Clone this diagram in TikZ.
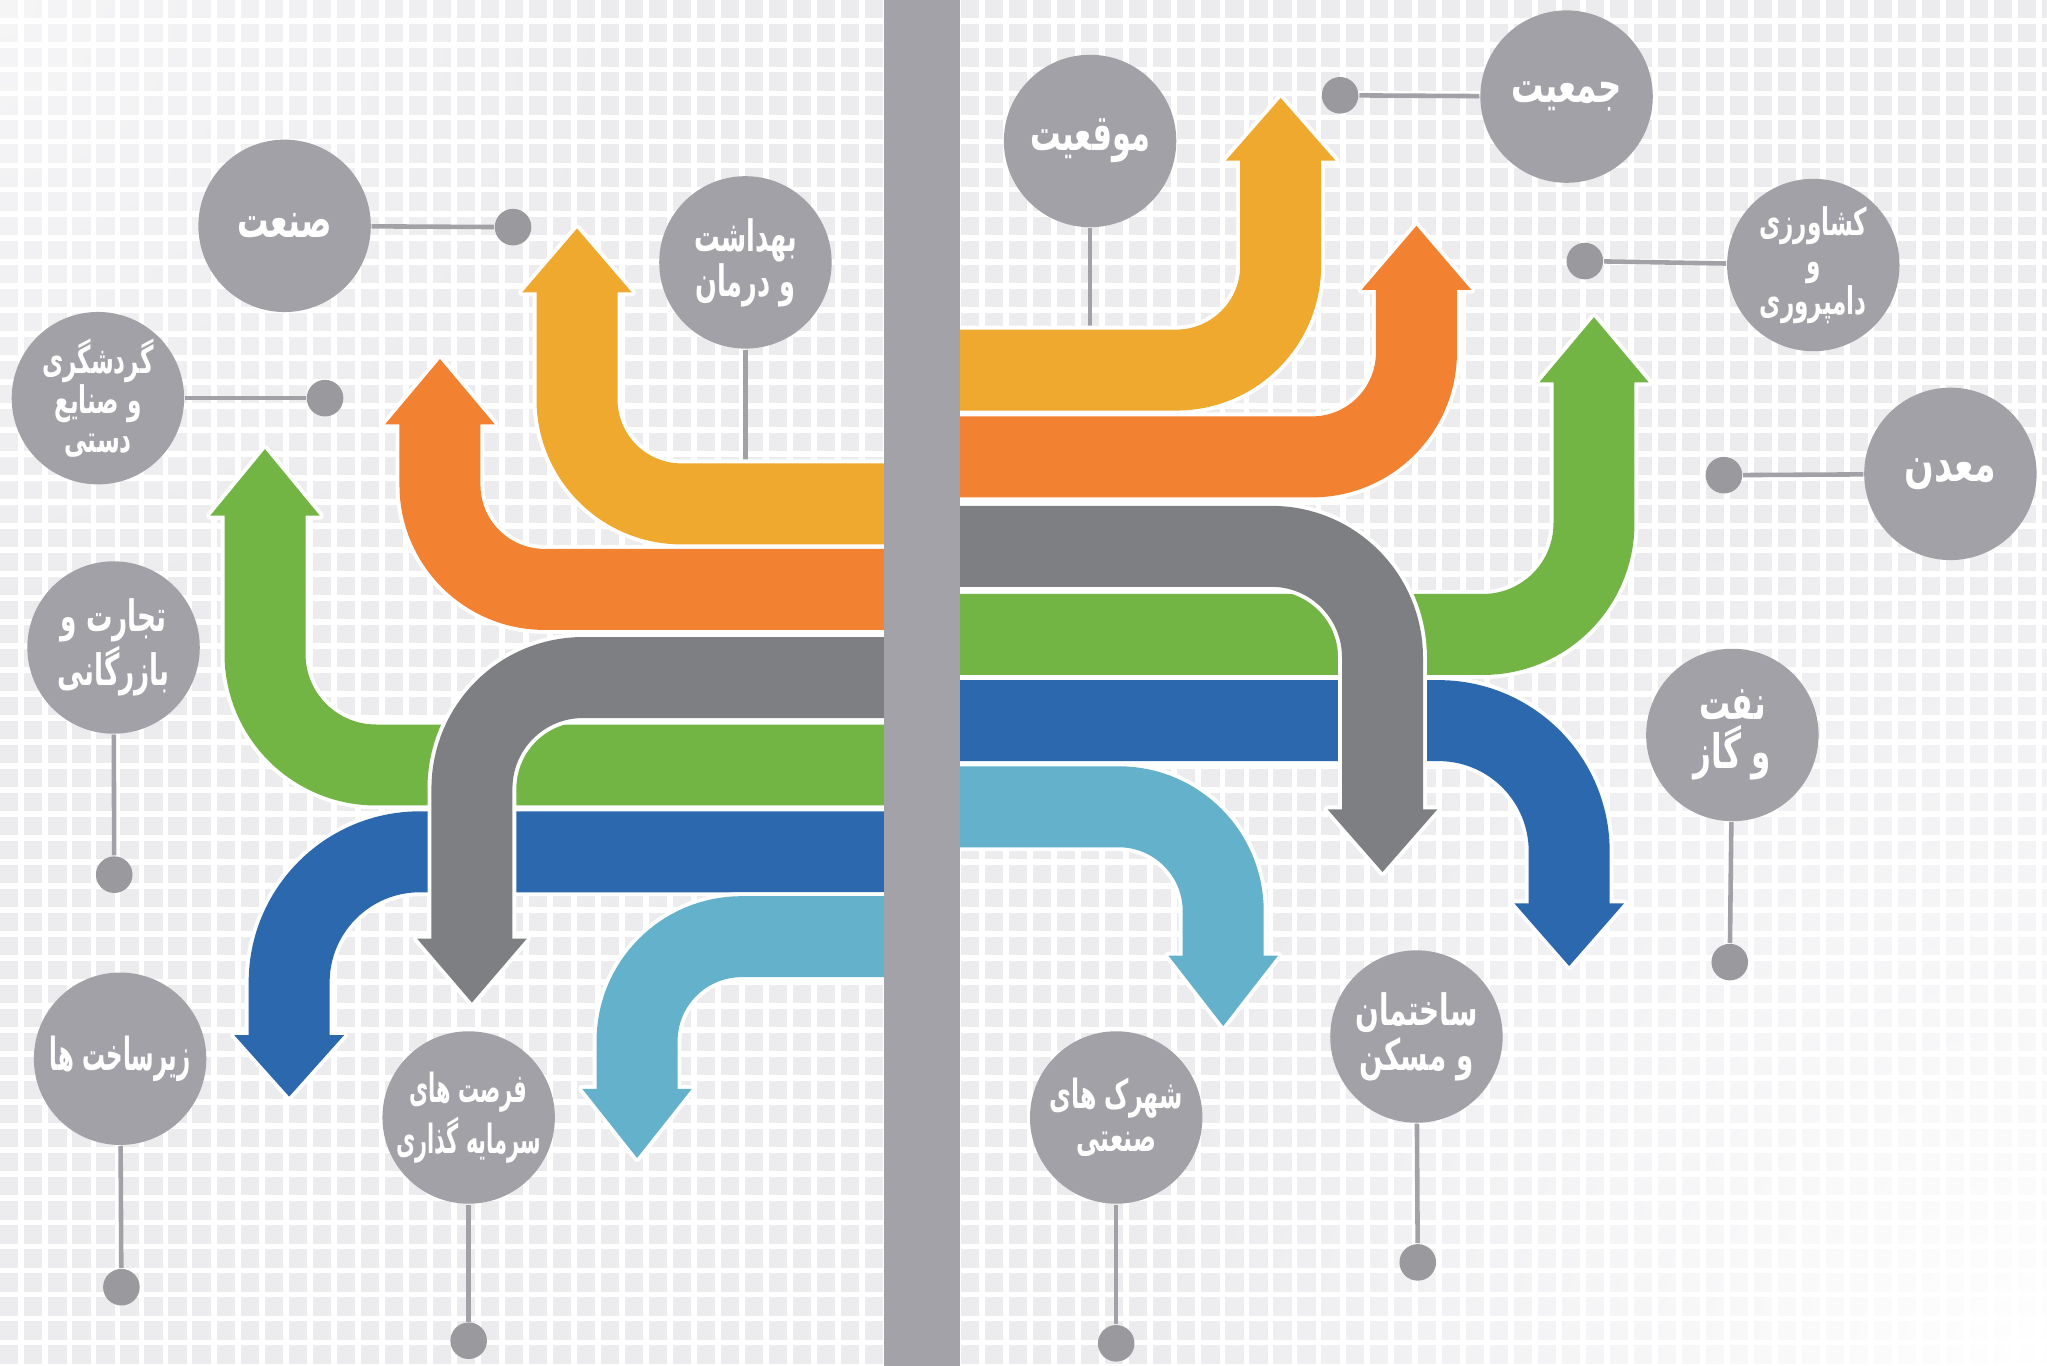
\documentclass[tikz,border=0pt]{standalone}
\usepackage{graphicx}
\usepackage{fontspec}
\newfontfamily\fa[Script=Arabic]{DejaVu Sans}
\TeXXeTstate=1
\usetikzlibrary{fadings}
\definecolor{cY}{HTML}{EFA92F}
\definecolor{cO}{HTML}{F28131}
\definecolor{cG}{HTML}{72B544}
\definecolor{cB}{HTML}{2C68AE}
\definecolor{cL}{HTML}{63B1CA}
\definecolor{cK}{HTML}{7E7F83}
\definecolor{barg}{HTML}{A3A2A9}
\definecolor{bub}{HTML}{A2A1A7}
\definecolor{dotg}{HTML}{9A999E}
\definecolor{gridg}{HTML}{ECECEF}
\tikzfading[name=radfade, inner color=transparent!0, outer color=transparent!100]
\newcommand\rl[2][0.7]{\scalebox{#1}[1.15]{\beginR #2\endR}}
% #1 colour, #2 band y, #3 shaft x, #4 head base y, #5 tip y, #6 corner radius
\newcommand\flow[6]{%
 \draw[white, line width=0.68cm, rounded corners=#6] (706,#2) -- (#3,#2) -- (#3,{#4+0.1*(#5-#4)});
 \filldraw[white, line width=0.06cm, line join=round] ({#3-42},#4) -- ({#3+42},#4) -- (#3,#5) -- cycle;
 \draw[#1, line width=0.62cm, rounded corners=#6] (706,#2) -- (#3,#2) -- (#3,{#4+0.1*(#5-#4)});
 \fill[#1] ({#3-42},#4) -- ({#3+42},#4) -- (#3,#5) -- cycle;
}
\begin{document}
\begin{tikzpicture}[x=0.01cm, y=-0.01cm,
  bubble/.style={circle, fill=bub, minimum size=1.32cm, inner sep=0pt, text=white, align=center},
  one/.style={font=\fa\bfseries\fontsize{9.5}{11}\selectfont},
  two/.style={font=\fa\bfseries\fontsize{8.2}{9.8}\selectfont},
  three/.style={font=\fa\bfseries\fontsize{7.2}{8.6}\selectfont},
  dotn/.style={circle, fill=dotg, minimum size=0.28cm, inner sep=0pt},
  conn/.style={draw=bub, line width=0.035cm}]
\useasboundingbox (0,0) rectangle (1568,1046);
% background grid
\fill[gridg] (0,0) rectangle (1568,1046);
\foreach \i in {0,...,86} \draw[white, line width=0.045cm] ({\i*18.4-2},0) -- ({\i*18.4-2},1046);
\foreach \j in {0,...,57} \draw[white, line width=0.045cm] (0,{\j*18.4-2}) -- (1568,{\j*18.4-2});
\fill[white, path fading=radfade] (1568,1046) circle[radius=7cm];
\fill[white, path fading=radfade, opacity=0.5] (0,0) circle[radius=5cm];

% bubbles (nodes) and dots
\node[bubble, one] (sanat) at (218,173) {\rl[0.72]{صنعت}};
\node[bubble, two] (behdasht) at (571,201) {\rl[0.68]{بهداشت}\\\rl[0.68]{و درمان}};
\node[bubble, three] (gardesh) at (75,305) {\rl{گردشگری}\\\rl{و صنایع}\\\rl{دستی}};
\node[bubble, two] (tejarat) at (87,496) {\rl[0.7]{تجارت و}\\\rl[0.7]{بازرگانی}};
\node[bubble, one, font=\fa\bfseries\fontsize{8.6}{10}\selectfont] (zir) at (92,811) {\rl[0.58]{زیرساخت ها}};
\node[bubble, two, font=\fa\bfseries\fontsize{7.6}{9.4}\selectfont] (forsat) at (359,856) {\rl[0.6]{فرصت های}\\\rl[0.6]{سرمایه گذاری}};
\node[bubble, two, font=\fa\bfseries\fontsize{7.6}{9.4}\selectfont] (shahrak) at (855,856) {\rl[0.68]{شهرک های}\\\rl[0.68]{صنعتی}};
\node[bubble, two] (sakhteman) at (1085,794) {\rl[0.74]{ساختمان}\\\rl[0.74]{و مسکن}};
\node[bubble, two, font=\fa\bfseries\fontsize{9}{10.8}\selectfont] (naft) at (1327,563) {\rl[0.75]{نفت}\\\rl[0.75]{و گاز}};
\node[bubble, one] (madan) at (1494,363) {\rl[0.8]{معدن}};
\node[bubble, three] (keshavarzi) at (1389,203) {\rl{کشاورزی}\\\rl{و}\\\rl{دامپروری}};
\node[bubble, one] (jamiat) at (1200,74) {\rl[0.74]{جمعیت}};
\node[bubble, one] (mogheiat) at (835,108) {\rl[0.7]{موقعیت}};

\node[dotn] (d1) at (393,174) {};
\node[dotn] (d3) at (249,305) {};
\node[dotn] (d4) at (87.5,670) {};
\node[dotn] (d5) at (93,986) {};
\node[dotn] (d6) at (359,1027) {};
\node[dotn] (d7) at (855,1029) {};
\node[dotn] (d8) at (1086,967) {};
\node[dotn] (d9) at (1325,737) {};
\node[dotn] (d10) at (1320.5,364) {};
\node[dotn] (d11) at (1214,200) {};
\node[dotn] (d12) at (1026.5,73) {};
\coordinate (e2) at (571,356);
\coordinate (e13) at (835,256);

\draw[conn] (sanat) -- (d1);
\draw[conn] (behdasht) -- (e2);
\draw[conn] (gardesh) -- (d3);
\draw[conn] (tejarat) -- (d4);
\draw[conn] (zir) -- (d5);
\draw[conn] (forsat) -- (d6);
\draw[conn] (shahrak) -- (d7);
\draw[conn] (sakhteman) -- (d8);
\draw[conn] (naft) -- (d9);
\draw[conn] (madan) -- (d10);
\draw[conn] (keshavarzi) -- (d11);
\draw[conn] (jamiat) -- (d12);
\draw[conn] (mogheiat) -- (e13);

% left flows
\flow{cY}{386}{442}{224}{175}{0.8cm}
\flow{cO}{451.5}{337}{325}{275}{0.8cm}
\flow{cG}{586}{203}{395}{344}{0.85cm}
\flow{cB}{652.5}{221.5}{793}{840}{1cm}
\flow{cL}{717.5}{488}{834}{887}{0.8cm}
\flow{cK}{519}{361.5}{719}{768}{0.85cm}
% right flows
\flow{cY}{283.5}{981}{123}{75}{0.8cm}
\flow{cO}{350}{1085}{222}{173}{0.8cm}
\flow{cG}{486}{1221}{293}{243}{0.85cm}
\flow{cB}{552}{1202}{692}{740}{1cm}
\flow{cL}{618}{937}{732}{786}{0.8cm}
\flow{cK}{418.5}{1059}{620}{668}{0.85cm}

% central bar
\fill[barg] (677,0) rectangle (735,1046);
\end{tikzpicture}
\end{document}
